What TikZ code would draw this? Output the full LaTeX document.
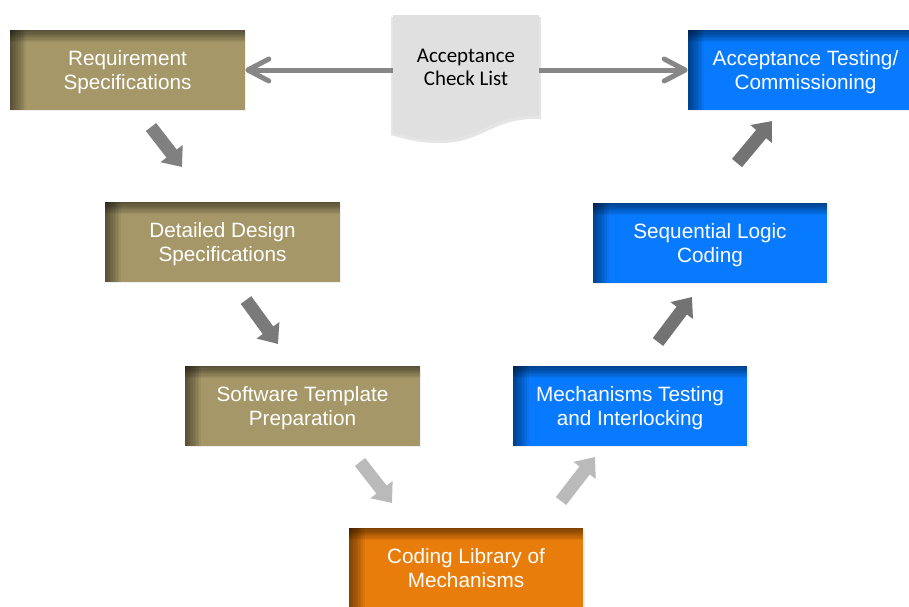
\documentclass[tikz,border=0pt]{standalone}
\usepackage{fontspec}
\setmainfont{Liberation Sans}
\newfontfamily\calibri{Carlito}
\usetikzlibrary{arrows.meta,shadows}

\definecolor{specbrown}{RGB}{165,151,103}
\definecolor{testblue}{RGB}{8,122,255}
\definecolor{codeorange}{RGB}{232,125,12}
\definecolor{sheetgray}{RGB}{224,224,224}

\tikzset{
	stage/.style={minimum width=4.7cm, minimum height=1.6cm, inner sep=0pt,
		align=center, text=white, font=\fontsize{11.8}{13.4}\selectfont, fill=#1,
		text depth=0pt,
		drop shadow={shadow xshift=0.6pt, shadow yshift=-0.8pt, opacity=0.12},
		path picture={
			% soft inner shadow along the top and left edges
			\foreach \k in {1,...,10}{
				\fill[black, opacity=0.055] (path picture bounding box.north west) rectangle ([yshift=-\k*0.024cm]path picture bounding box.north east);
				\fill[black, opacity=0.055] (path picture bounding box.north west) rectangle ([xshift=\k*0.032cm]path picture bounding box.south west);
			}
		}},
	bigarrow/.style={draw=#1, line width=0.26cm, -{Triangle[length=0.34cm, width=0.54cm]}},
	sidelink/.style={draw=black!47, line width=0.1cm,
		-{Straight Barb[length=0.42cm, width=0.44cm, line cap=round, line join=round]}},
}

\begin{document}
\begin{tikzpicture}[x=0.02cm, y=-0.02cm]
	%%%%% START %%%%%
	\useasboundingbox (0,0) rectangle (909,606);
	
	% left column
	\node[stage=specbrown] (req) at (127.5,70) {Requirement\\Specifications};
	\node[stage=specbrown] (design) at (222.5,242) {Detailed Design\\Specifications};
	\node[stage=specbrown] (template) at (302.5,406) {Software Template\\Preparation};
	
	% bottom
	\node[stage=codeorange] (library) at (466,568) {Coding Library of\\Mechanisms};
	
	% right column
	\node[stage=testblue] (interlock) at (630,406) {Mechanisms Testing\\and Interlocking};
	\node[stage=testblue] (logic) at (710,243) {Sequential Logic\\Coding};
	\node[stage=testblue] (test) at (805.5,70) {Acceptance Testing/\\Commissioning};
	
	% check list sheet
	\fill[black, opacity=0.1] (391,17) -- (541,17) -- (541,119)
		.. controls (492,117) and (482,144) .. (439,143)
		.. controls (419,143) and (404,139) .. (391,135) -- cycle;
	\fill[sheetgray] (393,15) -- (539,15) -- (539,116)
		.. controls (490,114) and (480,141) .. (438,140)
		.. controls (418,140) and (404,136) .. (393,132) -- cycle;
	\node[font=\calibri\fontsize{11.9}{13}\selectfont, align=center, minimum width=2.92cm, inner sep=0pt] (list) at (466,67) {Acceptance\\Check List};
	
	\draw[sidelink] (list.west |- req.east) -- (req.east);
	\draw[sidelink] (list.east |- test.west) -- (test.west);
	
	% flow arrows
	\coordinate (r1) at (151,127); \coordinate (r2) at (182,167);
	\coordinate (d1) at (246,300); \coordinate (d2) at (278,344);
	\coordinate (t1) at (360,462); \coordinate (t2) at (392,503);
	\coordinate (l1) at (561,501); \coordinate (l2) at (595,457);
	\coordinate (m1) at (658,342); \coordinate (m2) at (692,297);
	\coordinate (s1) at (737,163); \coordinate (s2) at (772,121);
	
	\draw[bigarrow=black!50] (r1) -- (r2);
	\draw[bigarrow=black!52] (d1) -- (d2);
	\draw[bigarrow=black!27] (t1) -- (t2);
	\draw[bigarrow=black!27] (l1) -- (l2);
	\draw[bigarrow=black!55] (m1) -- (m2);
	\draw[bigarrow=black!55] (s1) -- (s2);
	
	%%%%% END %%%%%
\end{tikzpicture}
\end{document}
